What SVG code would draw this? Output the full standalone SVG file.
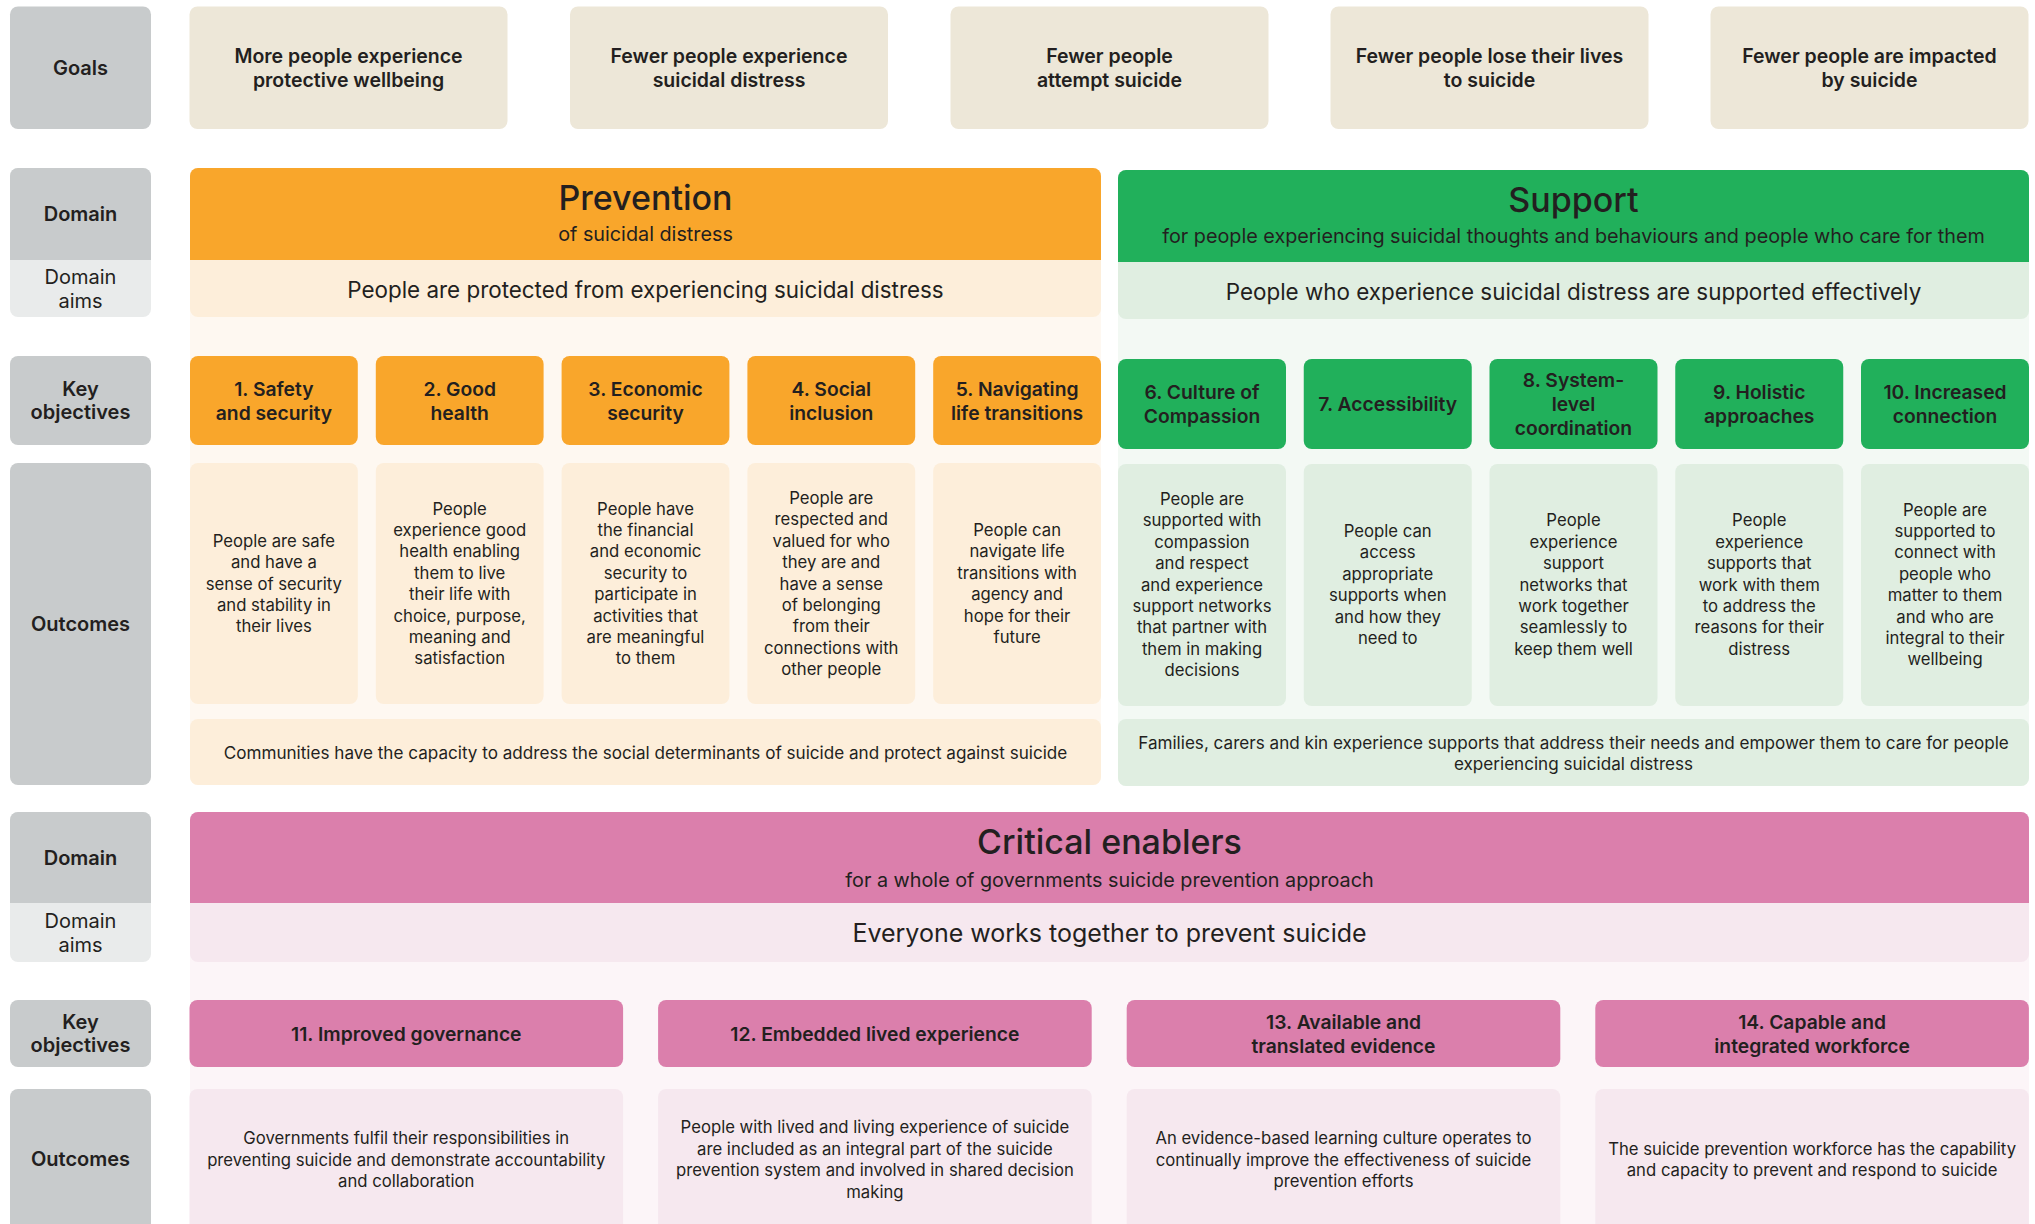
<svg xmlns="http://www.w3.org/2000/svg" width="2035" height="1224" viewBox="0 0 2035 1224">
  <style>
    text { font-family: Inter, "Open Sans", "DejaVu Sans", sans-serif; fill: #231f20; text-anchor: middle; dominant-baseline: central; }
    .lbl { font-size: 20px; font-weight: 600; }
    .lblr { font-size: 20px; font-weight: 400; }
    .goal { font-size: 19.5px; font-weight: 600; }
    .title { font-size: 34px; font-weight: 500; }
    .sub { font-size: 19.8px; font-weight: 400; }
    .aim { font-size: 22.4px; font-weight: 400; }
    .aim-lg { font-size: 25px; font-weight: 400; }
    .obj { font-size: 19.3px; font-weight: 600; }
    .out { font-size: 16.7px; font-weight: 400; }
    .band { font-size: 17.1px; font-weight: 400; }
    .gray { fill: #c8cbcc; }
    .gray-l { fill: #e9ebeb; }
    .beige { fill: #ede7d8; }
    .or { fill: #f9a62b; }
    .or-l { fill: #fdeeda; }
    .or-bg { fill: #fef8f1; }
    .gr { fill: #21b05b; }
    .gr-l { fill: #e0eee1; }
    .gr-bg { fill: #f3f9f4; }
    .pk { fill: #db7fac; }
    .pk-l { fill: #f6e8ef; }
    .pk-bg { fill: #fcf5f8; }
  </style>

  <rect width="2035" height="1224" fill="#ffffff"/>

  <!-- Row labels (left column) -->
  <g id="label-goals">
    <rect class="gray" x="10" y="6.5" width="141" height="122.5" rx="8"/>
    <text class="lbl" x="80.5" y="67.5">Goals</text>
  </g>
  <g id="label-domain-1">
    <rect class="gray-l" x="10" y="168" width="141" height="149" rx="8"/>
    <path class="gray" d="M10,176 a8,8 0 0 1 8,-8 h125 a8,8 0 0 1 8,8 v84 h-141 z"/>
    <text class="lbl" x="80.5" y="214">Domain</text>
    <text class="lblr"><tspan x="80.5" y="277">Domain</tspan><tspan x="80.5" y="300.5">aims</tspan></text>
  </g>
  <g id="label-objectives-1">
    <rect class="gray" x="10" y="356" width="141" height="89" rx="8"/>
    <text class="lbl"><tspan x="80.5" y="388.5">Key</tspan><tspan x="80.5" y="412">objectives</tspan></text>
  </g>
  <g id="label-outcomes-1">
    <rect class="gray" x="10" y="463" width="141" height="322" rx="8"/>
    <text class="lbl" x="80.5" y="624">Outcomes</text>
  </g>
  <g id="label-domain-2">
    <rect class="gray-l" x="10" y="812" width="141" height="150" rx="8"/>
    <path class="gray" d="M10,820 a8,8 0 0 1 8,-8 h125 a8,8 0 0 1 8,8 v83 h-141 z"/>
    <text class="lbl" x="80.5" y="857.5">Domain</text>
    <text class="lblr"><tspan x="80.5" y="921">Domain</tspan><tspan x="80.5" y="944.5">aims</tspan></text>
  </g>
  <g id="label-objectives-2">
    <rect class="gray" x="10" y="1000" width="141" height="67" rx="8"/>
    <text class="lbl"><tspan x="80.5" y="1021.5">Key</tspan><tspan x="80.5" y="1045">objectives</tspan></text>
  </g>
  <g id="label-outcomes-2">
    <rect class="gray" x="10" y="1089" width="141" height="160" rx="8"/>
    <text class="lbl" x="80.5" y="1159">Outcomes</text>
  </g>

  <!-- Goals -->
  <g id="goal-1">
    <rect class="beige" x="189.5" y="6.5" width="318" height="122.5" rx="8"/>
    <text class="goal"><tspan x="348.5" y="55.5">More people experience</tspan><tspan x="348.5" y="79.5">protective wellbeing</tspan></text>
  </g>
  <g id="goal-2">
    <rect class="beige" x="570" y="6.5" width="318" height="122.5" rx="8"/>
    <text class="goal"><tspan x="729" y="55.5">Fewer people experience</tspan><tspan x="729" y="79.5">suicidal distress</tspan></text>
  </g>
  <g id="goal-3">
    <rect class="beige" x="950.5" y="6.5" width="318" height="122.5" rx="8"/>
    <text class="goal"><tspan x="1109.5" y="55.5">Fewer people</tspan><tspan x="1109.5" y="79.5">attempt suicide</tspan></text>
  </g>
  <g id="goal-4">
    <rect class="beige" x="1330.5" y="6.5" width="318" height="122.5" rx="8"/>
    <text class="goal"><tspan x="1489.5" y="55.5">Fewer people lose their lives</tspan><tspan x="1489.5" y="79.5">to suicide</tspan></text>
  </g>
  <g id="goal-5">
    <rect class="beige" x="1710.5" y="6.5" width="318" height="122.5" rx="8"/>
    <text class="goal"><tspan x="1869.5" y="55.5">Fewer people are impacted</tspan><tspan x="1869.5" y="79.5">by suicide</tspan></text>
  </g>

  <!-- Prevention domain -->
  <g id="domain-prevention">
    <rect class="or-bg" x="190" y="168" width="911" height="617" rx="8"/>
    <rect class="or-l" x="190" y="168" width="911" height="149" rx="8"/>
    <path class="or" d="M190,176 a8,8 0 0 1 8,-8 h895 a8,8 0 0 1 8,8 v84 h-911 z"/>
    <text class="title" x="645.5" y="197">Prevention</text>
    <text class="sub" x="645.5" y="234">of suicidal distress</text>
    <text class="aim" x="645.5" y="289">People are protected from experiencing suicidal distress</text>
  </g>
  <g id="objective-1">
    <rect class="or" x="190" y="356" width="167.8" height="89" rx="8"/>
    <text class="obj"><tspan x="273.9" y="389">1. Safety</tspan><tspan x="273.9" y="413">and security</tspan></text>
  </g>
  <g id="objective-2">
    <rect class="or" x="375.8" y="356" width="167.8" height="89" rx="8"/>
    <text class="obj"><tspan x="459.7" y="389">2. Good</tspan><tspan x="459.7" y="413">health</tspan></text>
  </g>
  <g id="objective-3">
    <rect class="or" x="561.6" y="356" width="167.8" height="89" rx="8"/>
    <text class="obj"><tspan x="645.5" y="389">3. Economic</tspan><tspan x="645.5" y="413">security</tspan></text>
  </g>
  <g id="objective-4">
    <rect class="or" x="747.4" y="356" width="167.8" height="89" rx="8"/>
    <text class="obj"><tspan x="831.3" y="389">4. Social</tspan><tspan x="831.3" y="413">inclusion</tspan></text>
  </g>
  <g id="objective-5">
    <rect class="or" x="933.2" y="356" width="167.8" height="89" rx="8"/>
    <text class="obj"><tspan x="1017.1" y="389">5. Navigating</tspan><tspan x="1017.1" y="413">life transitions</tspan></text>
  </g>
  <g id="outcome-1">
    <rect class="or-l" x="190" y="463" width="167.8" height="241" rx="8"/>
    <text class="out"><tspan x="273.9" y="540.7">People are safe</tspan><tspan x="273.9" y="562.1">and have a</tspan><tspan x="273.9" y="583.5">sense of security</tspan><tspan x="273.9" y="604.9">and stability in</tspan><tspan x="273.9" y="626.3">their lives</tspan></text>
  </g>
  <g id="outcome-2">
    <rect class="or-l" x="375.8" y="463" width="167.8" height="241" rx="8"/>
    <text class="out"><tspan x="459.7" y="508.6">People</tspan><tspan x="459.7" y="530">experience good</tspan><tspan x="459.7" y="551.4">health enabling</tspan><tspan x="459.7" y="572.8">them to live</tspan><tspan x="459.7" y="594.2">their life with</tspan><tspan x="459.7" y="615.6">choice, purpose,</tspan><tspan x="459.7" y="637">meaning and</tspan><tspan x="459.7" y="658.4">satisfaction</tspan></text>
  </g>
  <g id="outcome-3">
    <rect class="or-l" x="561.6" y="463" width="167.8" height="241" rx="8"/>
    <text class="out"><tspan x="645.5" y="508.6">People have</tspan><tspan x="645.5" y="530">the financial</tspan><tspan x="645.5" y="551.4">and economic</tspan><tspan x="645.5" y="572.8">security to</tspan><tspan x="645.5" y="594.2">participate in</tspan><tspan x="645.5" y="615.6">activities that</tspan><tspan x="645.5" y="637">are meaningful</tspan><tspan x="645.5" y="658.4">to them</tspan></text>
  </g>
  <g id="outcome-4">
    <rect class="or-l" x="747.4" y="463" width="167.8" height="241" rx="8"/>
    <text class="out"><tspan x="831.3" y="497.9">People are</tspan><tspan x="831.3" y="519.3">respected and</tspan><tspan x="831.3" y="540.7">valued for who</tspan><tspan x="831.3" y="562.1">they are and</tspan><tspan x="831.3" y="583.5">have a sense</tspan><tspan x="831.3" y="604.9">of belonging</tspan><tspan x="831.3" y="626.3">from their</tspan><tspan x="831.3" y="647.7">connections with</tspan><tspan x="831.3" y="669.1">other people</tspan></text>
  </g>
  <g id="outcome-5">
    <rect class="or-l" x="933.2" y="463" width="167.8" height="241" rx="8"/>
    <text class="out"><tspan x="1017.1" y="530">People can</tspan><tspan x="1017.1" y="551.4">navigate life</tspan><tspan x="1017.1" y="572.8">transitions with</tspan><tspan x="1017.1" y="594.2">agency and</tspan><tspan x="1017.1" y="615.6">hope for their</tspan><tspan x="1017.1" y="637">future</tspan></text>
  </g>
  <g id="outcome-communities">
    <rect class="or-l" x="190" y="719" width="911" height="66" rx="8"/>
    <text class="band" x="645.5" y="752">Communities have the capacity to address the social determinants of suicide and protect against suicide</text>
  </g>

  <!-- Support domain -->
  <g id="domain-support">
    <rect class="gr-bg" x="1118" y="170" width="911" height="616" rx="8"/>
    <rect class="gr-l" x="1118" y="170" width="911" height="149" rx="8"/>
    <path class="gr" d="M1118,178 a8,8 0 0 1 8,-8 h895 a8,8 0 0 1 8,8 v84 h-911 z"/>
    <text class="title" x="1573.5" y="199.5">Support</text>
    <text class="sub" x="1573.5" y="236">for people experiencing suicidal thoughts and behaviours and people who care for them</text>
    <text class="aim" x="1573.5" y="291">People who experience suicidal distress are supported effectively</text>
  </g>
  <g id="objective-6">
    <rect class="gr" x="1118" y="359" width="168" height="90" rx="8"/>
    <text class="obj"><tspan x="1202" y="392">6. Culture of</tspan><tspan x="1202" y="416">Compassion</tspan></text>
  </g>
  <g id="objective-7">
    <rect class="gr" x="1303.75" y="359" width="168" height="90" rx="8"/>
    <text class="obj" x="1387.75" y="404">7. Accessibility</text>
  </g>
  <g id="objective-8">
    <rect class="gr" x="1489.5" y="359" width="168" height="90" rx="8"/>
    <text class="obj"><tspan x="1573.5" y="380">8. System-</tspan><tspan x="1573.5" y="404">level</tspan><tspan x="1573.5" y="428">coordination</tspan></text>
  </g>
  <g id="objective-9">
    <rect class="gr" x="1675.25" y="359" width="168" height="90" rx="8"/>
    <text class="obj"><tspan x="1759.25" y="392">9. Holistic</tspan><tspan x="1759.25" y="416">approaches</tspan></text>
  </g>
  <g id="objective-10">
    <rect class="gr" x="1861" y="359" width="168" height="90" rx="8"/>
    <text class="obj"><tspan x="1945" y="392">10. Increased</tspan><tspan x="1945" y="416">connection</tspan></text>
  </g>
  <g id="outcome-6">
    <rect class="gr-l" x="1118" y="464" width="168" height="242" rx="8"/>
    <text class="out"><tspan x="1202" y="498.9">People are</tspan><tspan x="1202" y="520.3">supported with</tspan><tspan x="1202" y="541.7">compassion</tspan><tspan x="1202" y="563.1">and respect</tspan><tspan x="1202" y="584.5">and experience</tspan><tspan x="1202" y="605.9">support networks</tspan><tspan x="1202" y="627.3">that partner with</tspan><tspan x="1202" y="648.7">them in making</tspan><tspan x="1202" y="670.1">decisions</tspan></text>
  </g>
  <g id="outcome-7">
    <rect class="gr-l" x="1303.75" y="464" width="168" height="242" rx="8"/>
    <text class="out"><tspan x="1387.75" y="531">People can</tspan><tspan x="1387.75" y="552.4">access</tspan><tspan x="1387.75" y="573.8">appropriate</tspan><tspan x="1387.75" y="595.2">supports when</tspan><tspan x="1387.75" y="616.6">and how they</tspan><tspan x="1387.75" y="638">need to</tspan></text>
  </g>
  <g id="outcome-8">
    <rect class="gr-l" x="1489.5" y="464" width="168" height="242" rx="8"/>
    <text class="out"><tspan x="1573.5" y="520.3">People</tspan><tspan x="1573.5" y="541.7">experience</tspan><tspan x="1573.5" y="563.1">support</tspan><tspan x="1573.5" y="584.5">networks that</tspan><tspan x="1573.5" y="605.9">work together</tspan><tspan x="1573.5" y="627.3">seamlessly to</tspan><tspan x="1573.5" y="648.7">keep them well</tspan></text>
  </g>
  <g id="outcome-9">
    <rect class="gr-l" x="1675.25" y="464" width="168" height="242" rx="8"/>
    <text class="out"><tspan x="1759.25" y="520.3">People</tspan><tspan x="1759.25" y="541.7">experience</tspan><tspan x="1759.25" y="563.1">supports that</tspan><tspan x="1759.25" y="584.5">work with them</tspan><tspan x="1759.25" y="605.9">to address the</tspan><tspan x="1759.25" y="627.3">reasons for their</tspan><tspan x="1759.25" y="648.7">distress</tspan></text>
  </g>
  <g id="outcome-10">
    <rect class="gr-l" x="1861" y="464" width="168" height="242" rx="8"/>
    <text class="out"><tspan x="1945" y="509.6">People are</tspan><tspan x="1945" y="531">supported to</tspan><tspan x="1945" y="552.4">connect with</tspan><tspan x="1945" y="573.8">people who</tspan><tspan x="1945" y="595.2">matter to them</tspan><tspan x="1945" y="616.6">and who are</tspan><tspan x="1945" y="638">integral to their</tspan><tspan x="1945" y="659.4">wellbeing</tspan></text>
  </g>
  <g id="outcome-families">
    <rect class="gr-l" x="1118" y="719" width="911" height="67" rx="8"/>
    <text class="band"><tspan x="1573.5" y="742">Families, carers and kin experience supports that address their needs and empower them to care for people</tspan><tspan x="1573.5" y="763">experiencing suicidal distress</tspan></text>
  </g>

  <!-- Critical enablers domain -->
  <g id="domain-critical-enablers">
    <rect class="pk-bg" x="190" y="812" width="1839" height="440" rx="8"/>
    <rect class="pk-l" x="190" y="812" width="1839" height="150" rx="8"/>
    <path class="pk" d="M190,820 a8,8 0 0 1 8,-8 h1823 a8,8 0 0 1 8,8 v83 h-1839 z"/>
    <text class="title" x="1109.5" y="841">Critical enablers</text>
    <text class="sub" x="1109.5" y="880">for a whole of governments suicide prevention approach</text>
    <text class="aim-lg" x="1109.5" y="933">Everyone works together to prevent suicide</text>
  </g>
  <g id="objective-11">
    <rect class="pk" x="189.5" y="1000" width="433.6" height="67" rx="8"/>
    <text class="obj" x="406.3" y="1033.5">11. Improved governance</text>
  </g>
  <g id="objective-12">
    <rect class="pk" x="658.1" y="1000" width="433.6" height="67" rx="8"/>
    <text class="obj" x="874.9" y="1033.5">12. Embedded lived experience</text>
  </g>
  <g id="objective-13">
    <rect class="pk" x="1126.7" y="1000" width="433.6" height="67" rx="8"/>
    <text class="obj"><tspan x="1343.5" y="1021.5">13. Available and</tspan><tspan x="1343.5" y="1045.5">translated evidence</tspan></text>
  </g>
  <g id="objective-14">
    <rect class="pk" x="1595.3" y="1000" width="433.6" height="67" rx="8"/>
    <text class="obj"><tspan x="1812.1" y="1021.5">14. Capable and</tspan><tspan x="1812.1" y="1045.5">integrated workforce</tspan></text>
  </g>
  <g id="outcome-11">
    <rect class="pk-l" x="189.5" y="1089" width="433.6" height="160" rx="8"/>
    <text class="out"><tspan x="406.3" y="1138">Governments fulfil their responsibilities in</tspan><tspan x="406.3" y="1159.5">preventing suicide and demonstrate accountability</tspan><tspan x="406.3" y="1181">and collaboration</tspan></text>
  </g>
  <g id="outcome-12">
    <rect class="pk-l" x="658.1" y="1089" width="433.6" height="160" rx="8"/>
    <text class="out"><tspan x="874.9" y="1127.25">People with lived and living experience of suicide</tspan><tspan x="874.9" y="1148.75">are included as an integral part of the suicide</tspan><tspan x="874.9" y="1170.25">prevention system and involved in shared decision</tspan><tspan x="874.9" y="1191.75">making</tspan></text>
  </g>
  <g id="outcome-13">
    <rect class="pk-l" x="1126.7" y="1089" width="433.6" height="160" rx="8"/>
    <text class="out"><tspan x="1343.5" y="1138">An evidence-based learning culture operates to</tspan><tspan x="1343.5" y="1159.5">continually improve the effectiveness of suicide</tspan><tspan x="1343.5" y="1181">prevention efforts</tspan></text>
  </g>
  <g id="outcome-14">
    <rect class="pk-l" x="1595.3" y="1089" width="433.6" height="160" rx="8"/>
    <text class="out"><tspan x="1812.1" y="1148.75">The suicide prevention workforce has the capability</tspan><tspan x="1812.1" y="1170.25">and capacity to prevent and respond to suicide</tspan></text>
  </g>
</svg>
